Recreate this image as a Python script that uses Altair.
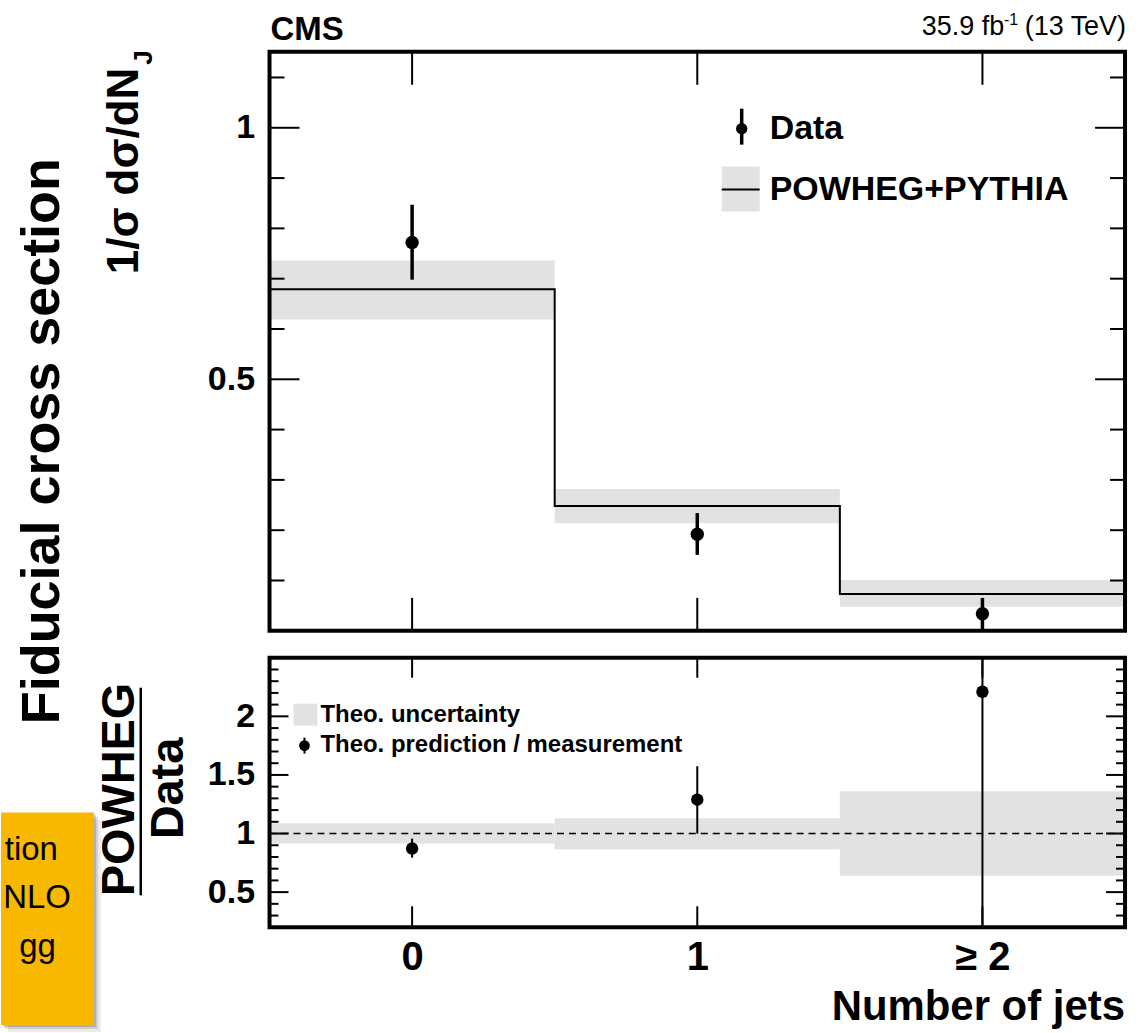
import altair as alt
import pandas as pd

FONT = "Liberation Sans"

# Jet-multiplicity bins
njets = [0, 1, 2]
bin_lo = [-0.5, 0.5, 1.5]
bin_hi = [0.5, 1.5, 2.5]

# Normalised fiducial cross section 1/sigma dsigma/dN_J, measured
data_val = [0.772, 0.192, 0.034]
data_lo = [0.698, 0.151, 0.0]
data_hi = [0.847, 0.234, 0.065]

# POWHEG+PYTHIA prediction with its theory band
pred_val = [0.679, 0.248, 0.073]
pred_lo = [0.619, 0.214, 0.048]
pred_hi = [0.736, 0.282, 0.101]

# Ratio panel: prediction / measurement
ratio_val = [0.872, 1.289, 2.21]
ratio_lo = [0.794, 1.0, 0.2]
ratio_hi = [0.957, 1.574, 2.5]
ratio_band_lo = [0.915, 0.864, 0.64]
ratio_band_hi = [1.087, 1.13, 1.36]

# Tick positions
top_major = [0.5, 1.0]
top_minor = [0.1, 0.2, 0.3, 0.4, 0.6, 0.7, 0.8, 0.9, 1.1]
low_major = [0.5, 1.0, 1.5, 2.0]
low_minor = [0.3, 0.4, 0.6, 0.7, 0.8, 0.9, 1.1, 1.2, 1.3, 1.4,
             1.6, 1.7, 1.8, 1.9, 2.1, 2.2, 2.3, 2.4]

W = 857
H_TOP = 580
H_LOW = 270
BAND = "#e2e2e2"

xs = alt.Scale(domain=[-0.5, 2.5], nice=False, zero=False)
ys_top = alt.Scale(domain=[0, 1.151], nice=False, zero=False)
ys_low = alt.Scale(domain=[0.2, 2.5], nice=False, zero=False)

ax_top_y = alt.Axis(values=top_major, labelExpr="'' + datum.value", labelFont=FONT,
                    labelFontSize=34, labelFontWeight="bold", labelColor="black",
                    ticks=False, domain=False, grid=False, title=None, labelPadding=15)
ax_low_y = alt.Axis(values=low_major, labelExpr="'' + datum.value", labelFont=FONT,
                    labelFontSize=34, labelFontWeight="bold", labelColor="black",
                    ticks=False, domain=False, grid=False, title=None, labelPadding=15)
ax_low_x = alt.Axis(values=njets, labelExpr="datum.value == 2 ? '≥ 2' : '' + datum.value",
                    labelFont=FONT, labelFontSize=40, labelFontWeight="bold",
                    labelColor="black", ticks=False, domain=False, grid=False,
                    title=None, labelPadding=10)


def xt(f):
    return alt.X(f, type="quantitative", scale=xs, axis=None)


def xl(f):
    return alt.X(f, type="quantitative", scale=xs, axis=ax_low_x)


def yt(f):
    return alt.Y(f, type="quantitative", scale=ys_top, axis=ax_top_y)


def yl(f):
    return alt.Y(f, type="quantitative", scale=ys_low, axis=ax_low_y)


def label(text, x, y, size, weight="bold", align="left", baseline="alphabetic",
          angle=0, color="black"):
    return alt.Chart(pd.DataFrame({"t": [text]})).mark_text(
        font=FONT, fontSize=size, fontWeight=weight, align=align,
        baseline=baseline, angle=angle, color=color
    ).encode(x=alt.value(x), y=alt.value(y), text="t:N")


def box(x1, x2, y1, y2, **kw):
    return alt.Chart(pd.DataFrame({"k": [0]})).mark_rect(**kw).encode(
        x=alt.value(x1), x2=alt.value(x2), y=alt.value(y1), y2=alt.value(y2))


def seg(x1, x2, y1, y2, **kw):
    return alt.Chart(pd.DataFrame({"k": [0]})).mark_rule(**kw).encode(
        x=alt.value(x1), x2=alt.value(x2), y=alt.value(y1), y2=alt.value(y2))


bins = pd.DataFrame({
    "n": njets, "lo": bin_lo, "hi": bin_hi,
    "d": data_val, "dlo": data_lo, "dhi": data_hi,
    "p": pred_val, "plo": pred_lo, "phi": pred_hi,
    "r": ratio_val, "rlo": ratio_lo, "rhi": ratio_hi,
    "blo": ratio_band_lo, "bhi": ratio_band_hi,
})
steps = pd.DataFrame({"e": bin_lo + [bin_hi[-1]], "p": pred_val + [pred_val[-1]]})

# ---------------- upper panel ----------------
anchor = box(-269, 871, -50, 983, opacity=0)

top_band = alt.Chart(bins).mark_rect(color=BAND).encode(
    x=xt("lo"), x2="hi", y=yt("plo"), y2="phi")
top_line = alt.Chart(steps).mark_line(interpolate="step-after", color="black",
                                      strokeWidth=2).encode(x=xt("e"), y=yt("p"))
top_err = alt.Chart(bins).mark_rule(color="black", strokeWidth=3.5).encode(
    x=xt("n"), y=yt("dlo"), y2="dhi")
top_pts = alt.Chart(bins).mark_point(shape="circle", filled=True, size=180,
                                     color="black", opacity=1).encode(x=xt("n"), y=yt("d"))

tick = dict(color="black", strokeWidth=2)
t_major = pd.DataFrame({"v": top_major})
t_minor = pd.DataFrame({"v": top_minor})
t_x = pd.DataFrame({"v": njets})
top_ticks = [
    alt.Chart(t_minor).mark_rule(**tick).encode(y=yt("v"), x=alt.value(0), x2=alt.value(15)),
    alt.Chart(t_major).mark_rule(**tick).encode(y=yt("v"), x=alt.value(0), x2=alt.value(30)),
    alt.Chart(t_minor).mark_rule(**tick).encode(y=yt("v"), x=alt.value(W - 15), x2=alt.value(W)),
    alt.Chart(t_major).mark_rule(**tick).encode(y=yt("v"), x=alt.value(W - 30), x2=alt.value(W)),
    alt.Chart(t_x).mark_rule(**tick).encode(x=xt("v"), y=alt.value(0), y2=alt.value(33)),
    alt.Chart(t_x).mark_rule(**tick).encode(x=xt("v"), y=alt.value(H_TOP - 33), y2=alt.value(H_TOP)),
]
top_frame = box(0, W, 0, H_TOP, filled=False, stroke="black", strokeWidth=4)

top_legend = [
    seg(473, 473, 57, 93, color="black", strokeWidth=3.5),
    alt.Chart(pd.DataFrame({"k": [0]})).mark_point(
        shape="circle", filled=True, size=130, color="black", opacity=1
    ).encode(x=alt.value(473), y=alt.value(77)),
    label("Data", 501, 77, 34, baseline="middle"),
    box(453, 491, 115, 160, color=BAND),
    seg(453, 491, 138, 138, color="black", strokeWidth=2),
    label("POWHEG+PYTHIA", 501, 138, 34, baseline="middle"),
]
top_text = [
    label("CMS", 1, -12, 33),
    label("(13 TeV)", W + 1, -17, 27, weight="normal", align="right"),
    label("-1", W - 107, -27, 16, weight="normal", align="right"),
    label("35.9 fb", W - 121, -17, 27, weight="normal", align="right"),
    label("Fiducial cross section", -227, 390, 54, align="center",
          baseline="middle", angle=270),
    label("1/σ dσ/dN", -132, 16, 44, align="right", angle=270),
    label("J", -118, 13, 26, align="left", angle=270),
]

upper = alt.layer(
    anchor, top_band, top_line, *top_ticks, top_err, top_pts, top_frame,
    *top_legend, *top_text
).properties(width=W, height=H_TOP)

# ---------------- ratio panel ----------------
low_band = alt.Chart(bins).mark_rect(color=BAND).encode(
    x=xl("lo"), x2="hi", y=yl("blo"), y2="bhi")
unity = alt.Chart(pd.DataFrame({"v": [1.0]})).mark_rule(
    color="black", strokeWidth=1.5, strokeDash=[7, 5]
).encode(y=yl("v"), x=alt.value(0), x2=alt.value(W))
low_err = alt.Chart(bins).mark_rule(color="black", strokeWidth=2).encode(
    x=xl("n"), y=yl("rlo"), y2="rhi")
low_pts = alt.Chart(bins).mark_point(shape="circle", filled=True, size=155,
                                     color="black", opacity=1).encode(x=xl("n"), y=yl("r"))

l_major = pd.DataFrame({"v": low_major})
l_minor = pd.DataFrame({"v": low_minor})
low_ticks = [
    alt.Chart(l_minor).mark_rule(**tick).encode(y=yl("v"), x=alt.value(0), x2=alt.value(9)),
    alt.Chart(l_major).mark_rule(**tick).encode(y=yl("v"), x=alt.value(0), x2=alt.value(19)),
    alt.Chart(l_minor).mark_rule(**tick).encode(y=yl("v"), x=alt.value(W - 9), x2=alt.value(W)),
    alt.Chart(l_major).mark_rule(**tick).encode(y=yl("v"), x=alt.value(W - 19), x2=alt.value(W)),
    alt.Chart(t_x).mark_rule(**tick).encode(x=xl("v"), y=alt.value(0), y2=alt.value(20)),
    alt.Chart(t_x).mark_rule(**tick).encode(x=xl("v"), y=alt.value(H_LOW - 21), y2=alt.value(H_LOW)),
]
low_frame = box(0, W, 0, H_LOW, filled=False, stroke="black", strokeWidth=4)

low_legend = [
    box(24, 48, 46, 68, color=BAND),
    label("Theo. uncertainty", 51, 57, 24, baseline="middle"),
    seg(35, 35, 80, 96, color="black", strokeWidth=2),
    alt.Chart(pd.DataFrame({"k": [0]})).mark_point(
        shape="circle", filled=True, size=115, color="black", opacity=1
    ).encode(x=alt.value(35), y=alt.value(88)),
    label("Theo. prediction / measurement", 51, 87, 24, baseline="middle"),
]

# slide note box peeking in at the lower left
note = [
    box(-269 + 7, -176 + 7, 155 + 7, 368 + 7, color="black", opacity=0.08),
    box(-269 + 4, -176 + 4, 155 + 4, 368 + 4, color="black", opacity=0.12),
    box(-269 + 2, -176 + 2, 155 + 2, 368 + 2, color="black", opacity=0.15),
    box(-269, -176, 155, 368, color="#F8B800"),
    label("tion", -212, 203, 33, weight="normal", align="right"),
    label("NLO", -199, 251, 33, weight="normal", align="right"),
    label("gg", -214, 300, 33, weight="normal", align="right"),
]

low_text = [
    label("POWHEG", -136, 132, 47, align="center", angle=270),
    seg(-129, -129, 30, 238, color="black", strokeWidth=2.5),
    label("Data", -87, 131, 47, align="center", angle=270),
    label("Number of jets", W, 363, 42, align="right"),
]

lower = alt.layer(
    low_band, unity, *low_ticks, low_err, low_pts, low_frame,
    *low_legend, *note, *low_text
).properties(width=W, height=H_LOW)

chart = alt.vconcat(upper, lower, spacing=27, bounds="flush", padding=0).configure_view(
    stroke=None
).configure(background="white")

chart.save("out.html", embed_options={"renderer": "svg", "actions": False})
